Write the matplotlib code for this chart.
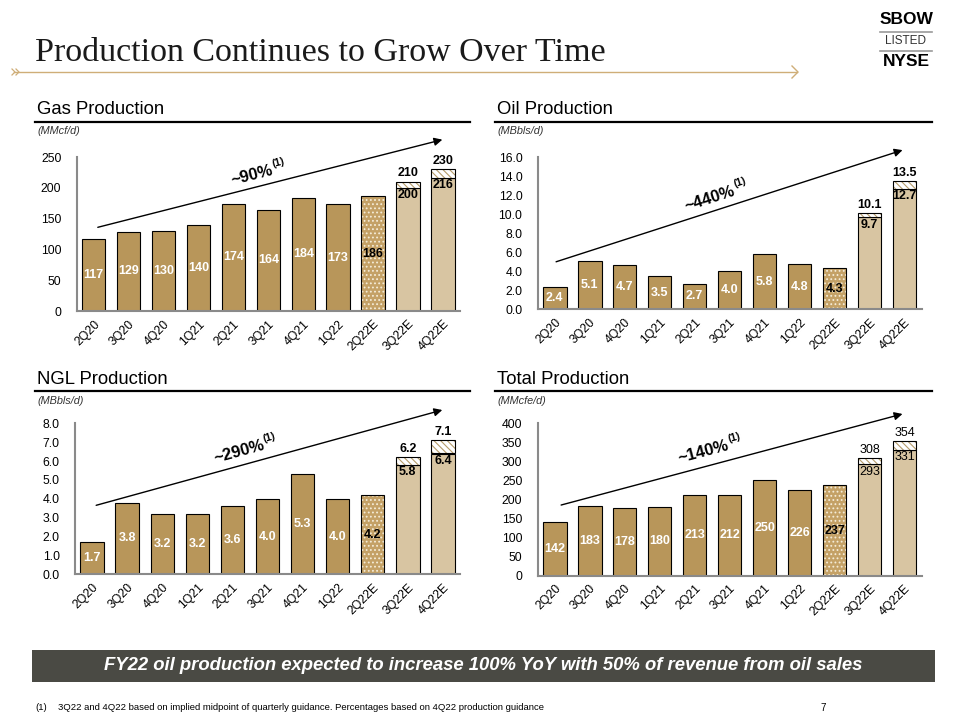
import numpy as np
import matplotlib
matplotlib.use("Agg")
import matplotlib.pyplot as plt
from matplotlib.lines import Line2D
from matplotlib.patches import Rectangle

plt.rcParams["font.family"] = ["Liberation Sans", "DejaVu Sans"]
plt.rcParams["hatch.linewidth"] = 0.8

# ---- data ----
quarters = ["2Q20", "3Q20", "4Q20", "1Q21", "2Q21", "3Q21", "4Q21", "1Q22", "2Q22E", "3Q22E", "4Q22E"]

gas_vals = [117, 129, 130, 140, 174, 164, 184, 173, 186, 200, 216]
gas_high = [210, 230]
oil_vals = [2.4, 5.1, 4.7, 3.5, 2.7, 4.0, 5.8, 4.8, 4.3, 9.7, 12.7]
oil_high = [10.1, 13.5]
ngl_vals = [1.7, 3.8, 3.2, 3.2, 3.6, 4.0, 5.3, 4.0, 4.2, 5.8, 6.4]
ngl_high = [6.2, 7.1]
total_vals = [142, 183, 178, 180, 213, 212, 250, 226, 237, 293, 331]
total_high = [308, 354]

growth_labels = ["~90%", "~440%", "~290%", "~140%"]

SOLID = "#b8965a"
LIGHT = "#d8c5a2"
DOTBG = "#c4a166"
HATCH = "#b59b6a"

W, H = 960, 720
fig = plt.figure(figsize=(9.6, 7.2), dpi=100)


def fx(px):
    return px / W


def fy(py):
    return 1 - py / H


def draw_panel(ax, vals, high, yticks, fmt, est_bold=True):
    x = np.arange(len(vals))
    n_act = 8
    ax.bar(x[:n_act], vals[:n_act], width=0.67, color=SOLID, edgecolor="black", linewidth=0.8)
    # 2Q22E dotted bar
    ax.bar(x[8], vals[8], width=0.67, color=DOTBG, edgecolor="#f4ecd8", linewidth=0, hatch="....")
    ax.bar(x[8], vals[8], width=0.67, fill=False, edgecolor="black", linewidth=0.8)
    # guidance bars
    ax.bar(x[9:], vals[9:], width=0.67, color=LIGHT, edgecolor="black", linewidth=0.8)
    tops = np.array(high) - np.array(vals[9:])
    ax.bar(x[9:], tops, bottom=vals[9:], width=0.67, color="white", edgecolor=HATCH,
           linewidth=0, hatch="\\\\\\\\\\")
    ax.bar(x[9:], tops, bottom=vals[9:], width=0.67, fill=False, edgecolor="black", linewidth=0.8)

    ymax = yticks[-1]
    for i in range(n_act):
        ax.text(x[i], vals[i] / 2, fmt.format(vals[i]), ha="center", va="center",
                color="white", fontsize=9, fontweight="bold")
    ax.text(x[8], vals[8] / 2, fmt.format(vals[8]), ha="center", va="center",
            color="black", fontsize=9, fontweight="bold")
    wt = "bold" if est_bold else "normal"
    for j, i in enumerate(range(9, 11)):
        ax.text(x[i], vals[i] - ymax * 0.01, fmt.format(vals[i]), ha="center", va="top",
                color="black", fontsize=9, fontweight=wt)
        ax.text(x[i], high[j] + ymax * 0.015, fmt.format(high[j]), ha="center", va="bottom",
                color="black", fontsize=9, fontweight=wt)

    ax.set_xlim(-0.49, 10.49)
    ax.set_ylim(0, ymax)
    ax.set_yticks(yticks)
    ax.set_yticklabels([fmt.format(t) for t in yticks], fontsize=8.8)
    ax.set_xticks(x)
    ax.set_xticklabels(quarters, rotation=45, ha="right", rotation_mode="anchor", fontsize=8.8)
    ax.tick_params(length=0, pad=5)
    ax.tick_params(axis="y", pad=11)
    for s in ["top", "right"]:
        ax.spines[s].set_visible(False)
    for s in ["left", "bottom"]:
        ax.spines[s].set_color("#8a8a8a")
        ax.spines[s].set_linewidth(1.5)
    ax.patch.set_alpha(0)


def growth_arrow(ax, start, end, label_pos, label):
    ax.annotate("", xy=end, xytext=start, xycoords="axes fraction", textcoords="axes fraction",
                arrowprops=dict(arrowstyle="-|>", color="black", lw=1.0, mutation_scale=12),
                annotation_clip=False)
    bb = ax.get_position()
    wpx, hpx = bb.width * W, bb.height * H
    ang = np.degrees(np.arctan2((end[1] - start[1]) * hpx, (end[0] - start[0]) * wpx))
    t = ax.text(label_pos[0], label_pos[1], label, transform=ax.transAxes, ha="center",
                va="center", fontsize=12, fontweight="bold")
    r = fig.canvas.get_renderer()
    w = t.get_window_extent(r).width
    t.set_rotation(ang)
    t.set_rotation_mode("anchor")
    a = np.radians(ang)
    along, perp = w / 2 + 1, 6
    dx = along * np.cos(a) - perp * np.sin(a)
    dy = along * np.sin(a) + perp * np.cos(a)
    ax.annotate("(1)", xy=label_pos, xycoords="axes fraction", xytext=(dx, dy),
                textcoords="offset pixels", rotation=ang, rotation_mode="anchor",
                ha="left", va="center", fontsize=7.5, fontweight="bold")


def header(px_x, px_y, px_line, x_end, title, unit):
    fig.text(fx(px_x), fy(px_y), title, fontsize=13.3, va="center", ha="left")
    fig.add_artist(Line2D([fx(px_x - 2), fx(x_end)], [fy(px_line), fy(px_line)],
                          color="black", lw=1.6))
    fig.text(fx(px_x), fy(px_line + 9.5), unit, fontsize=7.8, style="italic",
             va="center", ha="left", color="#333333")


# ---- panels ----
ax_gas = fig.add_axes([fx(76.7), fy(311), fx(460 - 76.7), (311 - 157) / H])
ax_oil = fig.add_axes([fx(537.7), fy(309.3), fx(921.7 - 537.7), (309.3 - 157.3) / H])
ax_ngl = fig.add_axes([fx(75), fy(574.3), fx(460 - 75), (574.3 - 423.3) / H])
ax_tot = fig.add_axes([fx(537.7), fy(575.7), fx(921.7 - 537.7), (575.7 - 423.3) / H])

draw_panel(ax_gas, gas_vals, gas_high, list(range(0, 251, 50)), "{:.0f}")
draw_panel(ax_oil, oil_vals, oil_high, [0, 2, 4, 6, 8, 10, 12, 14, 16], "{:.1f}")
draw_panel(ax_ngl, ngl_vals, ngl_high, [0, 1, 2, 3, 4, 5, 6, 7, 8], "{:.1f}")
draw_panel(ax_tot, total_vals, total_high, list(range(0, 401, 50)), "{:.0f}", est_bold=False)

growth_arrow(ax_gas, (0.048, 0.539), (0.961, 1.117), (0.457, 0.883), growth_labels[0])
growth_arrow(ax_oil, (0.041, 0.307), (0.957, 1.053), (0.449, 0.730), growth_labels[1])
growth_arrow(ax_ngl, (0.048, 0.452), (0.961, 1.093), (0.426, 0.811), growth_labels[2])
growth_arrow(ax_tot, (0.054, 0.459), (0.957, 1.066), (0.431, 0.809), growth_labels[3])

header(37, 110, 122, 470, "Gas Production", "(MMcf/d)")
header(497, 110, 122, 932, "Oil Production", "(MBbls/d)")
header(37, 379, 391, 470, "NGL Production", "(MBbls/d)")
header(497, 379, 391, 932, "Total Production", "(MMcfe/d)")

# ---- slide title ----
fig.text(fx(35), fy(53), "Production Continues to Grow Over Time", fontsize=24.5,
         family=["Liberation Serif", "DejaVu Serif"], va="center", ha="left", color="#1a1a1a")
fig.add_artist(Line2D([fx(14), fx(797)], [fy(72), fy(72)], color="#cfae78", lw=1.0))
for xo in (12, 16):
    fig.add_artist(Line2D([fx(xo), fx(xo + 3), fx(xo)], [fy(69), fy(72), fy(75)],
                          color="#cfae78", lw=0.9))
fig.add_artist(Line2D([fx(792), fx(798), fx(792)], [fy(66), fy(72), fy(78)],
                      color="#cfae78", lw=1.0))

# ---- logo ----
fig.text(fx(906), fy(19), "SBOW", fontsize=12.5, fontweight="bold", ha="center", va="center")
fig.add_artist(Line2D([fx(880), fx(932)], [fy(32), fy(32)], color="#9a9a9a", lw=1.2))
fig.text(fx(906), fy(41), "LISTED", fontsize=8.5, ha="center", va="center", color="#333333")
fig.add_artist(Line2D([fx(880), fx(932)], [fy(51), fy(51)], color="#9a9a9a", lw=1.2))
fig.text(fx(906), fy(62), "NYSE", fontsize=12.5, fontweight="bold", ha="center", va="center")

# ---- banner & footnote ----
fig.add_artist(Rectangle((fx(32), fy(682)), fx(935 - 32), (682 - 650) / H,
                         facecolor="#4a4a44", edgecolor="none", transform=fig.transFigure))
fig.text(fx(483), fy(666), "FY22 oil production expected to increase 100% YoY with 50% of revenue from oil sales",
         fontsize=13.3, fontweight="bold", style="italic", color="white", ha="center", va="center")
fig.text(fx(35), fy(708), "(1)", fontsize=6.8, ha="left", va="center")
fig.text(fx(58), fy(708), "3Q22 and 4Q22 based on implied midpoint of quarterly guidance. Percentages based on 4Q22 production guidance",
         fontsize=6.8, ha="left", va="center")
fig.text(fx(820), fy(708), "7", fontsize=7, ha="left", va="center")

fig.savefig("out.png", dpi=100)
